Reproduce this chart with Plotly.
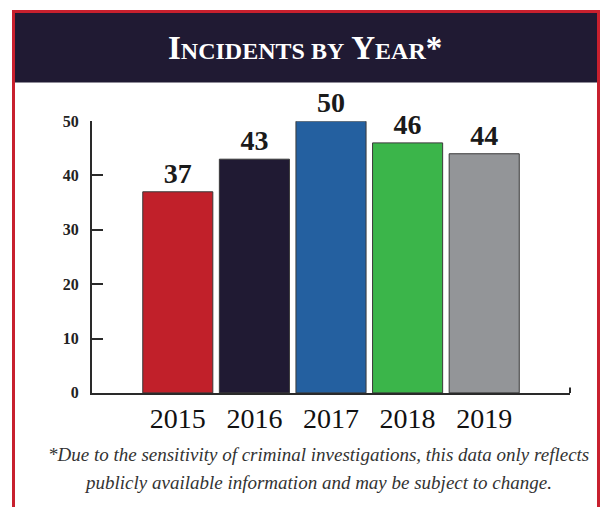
import plotly.graph_objects as go

years = ["2015", "2016", "2017", "2018", "2019"]
incidents = [37, 43, 50, 46, 44]
bar_colors = ["#C1202A", "#201A33", "#2460A0", "#3BB54A", "#939598"]
y_ticks = [0, 10, 20, 30, 40, 50]
title_html = ("<b>I<span style='font-size:24px'>NCIDENTS BY</span> "
              "Y<span style='font-size:24px'>EAR</span>*</b>")
note_lines = [
    "*Due to the sensitivity of criminal investigations, this data only reflects",
    "publicly available information and may be subject to change.",
]

W, H = 603, 516
serif = "Liberation Serif, Times New Roman, serif"

fig = go.Figure(go.Bar(
    x=years, y=incidents,
    marker=dict(color=bar_colors, line=dict(color="#3a3a3a", width=1)),
    text=[str(v) for v in incidents], textposition="outside",
    textfont=dict(family=serif, size=28, color="#1a1a1a", weight="bold"),
    cliponaxis=False, width=0.915,
))

fig.update_layout(
    width=W, height=H, margin=dict(l=0, r=0, t=0, b=0),
    paper_bgcolor="white", plot_bgcolor="white", showlegend=False,
    xaxis=dict(domain=[92 / W, 570 / W], range=[-1.12, 5.12], type="category",
               showline=True, linecolor="#2a2a2a", linewidth=2, ticks="",
               tickfont=dict(family=serif, size=28, color="#111"),
               showgrid=False, zeroline=False),
    yaxis=dict(domain=[1 - 398 / H, 1 - 117 / H], range=[0, 50],
               tickvals=y_ticks, ticks="inside", ticklen=11, tickwidth=2,
               tickcolor="#2a2a2a", showline=True, linecolor="#2a2a2a",
               linewidth=2, showgrid=False, zeroline=False,
               ticklabelstandoff=8,
               tickfont=dict(family=serif, size=16, color="#222", weight="bold")),
)

red = "#C8202E"
shapes = [
    dict(type="rect", xref="paper", yref="paper", x0=15 / W, x1=597 / W,
         y0=1 - 77 / H, y1=1 - 5 / H, fillcolor="#201A33", line=dict(width=0), layer="below"),
    dict(type="line", xref="paper", yref="paper", x0=13.5 / W, x1=13.5 / W,
         y0=0, y1=1 - 3.5 / H, line=dict(color=red, width=3)),
    dict(type="line", xref="paper", yref="paper", x0=598.5 / W, x1=598.5 / W,
         y0=0, y1=1 - 3.5 / H, line=dict(color=red, width=3)),
    dict(type="line", xref="paper", yref="paper", x0=12 / W, x1=600 / W,
         y0=1 - 3.5 / H, y1=1 - 3.5 / H, line=dict(color=red, width=3)),
    dict(type="line", xref="x domain", yref="y", x0=1, x1=1, y0=0, y1=1,
         line=dict(color="#2a2a2a", width=2)),
]
fig.update_layout(shapes=shapes)

fig.add_annotation(text=title_html, xref="paper", yref="paper", x=305 / W, y=1 - 41 / H,
                   showarrow=False, font=dict(family=serif, size=33, color="white"),
                   xanchor="center", yanchor="middle")
for line, yy in zip(note_lines, [462, 491]):
    fig.add_annotation(text="<i>" + line + "</i>", xref="paper", yref="paper",
                       x=318 / W, y=1 - yy / H, showarrow=False,
                       font=dict(family=serif, size=19, color="#333"),
                       xanchor="center", yanchor="middle")

fig.write_html(
    "out.html",
    config={"displayModeBar": False},
    post_script=("document.documentElement.style.margin='0';"
                 "document.documentElement.style.overflow='hidden';"
                 "document.body.style.margin='0';"
                 "document.body.style.padding='0';"
                 "document.body.style.overflow='hidden';"),
)
